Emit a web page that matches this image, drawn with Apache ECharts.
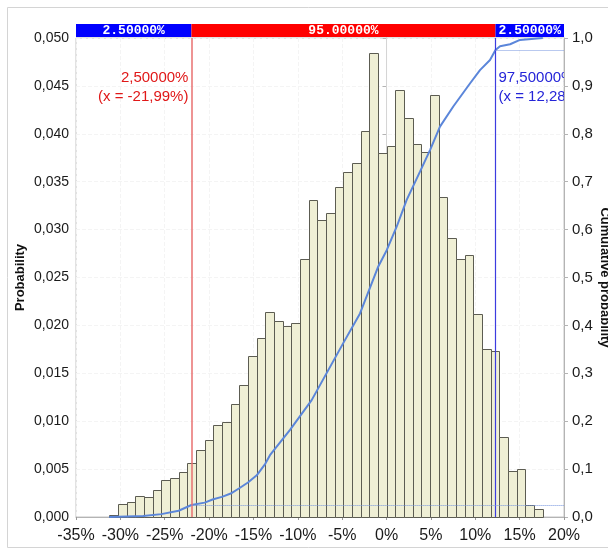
<!DOCTYPE html>
<html>
<head>
<meta charset="utf-8">
<script src="https://cdn.jsdelivr.net/npm/echarts@6/dist/echarts.min.js"></script>
<style>
  html, body { margin: 0; padding: 0; background: #fff; }
  #chart { width: 608px; height: 554px; }
</style>
</head>
<body>
<div id="chart"></div>
<script>
// Histogram of simulated returns: 50 equal-width bins between the sample minimum and maximum (%)
const binMin = -31.25;
const binMax = 17.61;
const binProb = [
  0.00024, 0.00133, 0.00153, 0.0022, 0.00205, 0.0028, 0.0039, 0.0041, 0.00467, 0.00564,
  0.00696, 0.0080, 0.00957, 0.00995, 0.01176, 0.01381, 0.0168, 0.01872, 0.0214, 0.0205,
  0.0199, 0.0202, 0.0269, 0.0331, 0.0310, 0.0317, 0.0344, 0.0360, 0.0370, 0.0403,
  0.0484, 0.0380, 0.0387, 0.0446, 0.0417, 0.0389, 0.0381, 0.0440, 0.0334, 0.0291,
  0.0269, 0.0274, 0.0212, 0.0175, 0.0173, 0.0084, 0.0048, 0.0050, 0.0013, 0.0008
];

// Empirical cumulative distribution (x in %, cumulative probability)
const cumX = [
  -31.25, -27.42, -25.39, -23.43, -21.99, -20.50, -19.53, -18.55, -17.56, -16.60,
  -15.62, -14.63, -13.67, -13.14, -10.88, -8.44, -4.88, -2.99, -0.93, 0.02,
  1.14, 2.27, 3.77, 4.90, 6.02, 7.52, 9.40, 10.53, 11.66, 12.28,
  12.79, 13.92, 15.04, 17.61
];
const cumP = [
  0.000, 0.002, 0.006, 0.013, 0.025, 0.030, 0.037, 0.042, 0.049, 0.060,
  0.072, 0.087, 0.111, 0.129, 0.182, 0.244, 0.363, 0.425, 0.523, 0.557,
  0.606, 0.662, 0.721, 0.766, 0.815, 0.857, 0.905, 0.933, 0.954, 0.975,
  0.983, 0.987, 0.996, 1.000
];

// Axis ranges
const xMin = -35, xMax = 20, xStep = 5;
const pMax = 0.05, pStep = 0.005;
const cMax = 1, cStep = 0.1;

// Delimiters of the central interval
const qLow = -21.99, qHigh = 12.28;
const qLowP = 0.025, qHighP = 0.975;
const bandText = ['2.50000%', '95.00000%', '2.50000%'];
const qLowText = ['2,50000%', '(x = -21,99%)'];
const qHighText = ['97,50000%', '(x = 12,28%)'];

const FONT = '"Liberation Sans", Arial, sans-serif';
const comma = (v, d) => v.toFixed(d).replace('.', ',');

const binW = (binMax - binMin) / binProb.length;
const barData = binProb.map((p, i) => [binMin + i * binW, binMin + (i + 1) * binW, p]);
const cumData = cumX.map((x, i) => [x, cumP[i]]);

const bandData = [
  [xMin, qLow, 0],
  [qLow, qHigh, 1],
  [qHigh, xMax, 2]
];
const bandColors = ['#0000ff', '#ff0000', '#0000ff'];

const chart = echarts.init(document.getElementById('chart'), null, { renderer: 'canvas' });

chart.setOption({
  animation: false,
  backgroundColor: '#fff',
  graphic: [{
    type: 'rect',
    shape: { x: 7.5, y: 7.5, width: 620, height: 540 },
    style: { fill: 'none', stroke: '#d4d4d4', lineWidth: 1 },
    silent: true, z: 0
  }],
  grid: [
    { left: 76, right: 44, top: 38, bottom: 37, show: true, borderColor: '#c4c4c4', borderWidth: 1, containLabel: false, outerBoundsMode: 'none' },
    { left: 76, right: 44, top: 24, height: 13, containLabel: false, outerBoundsMode: 'none' }
  ],
  xAxis: [
    {
      gridIndex: 0, type: 'value', min: xMin, max: xMax, interval: xStep,
      axisLine: { show: true, lineStyle: { color: '#b4b4b4' } },
      axisTick: { show: true, length: 3, lineStyle: { color: '#999' } },
      axisLabel: { formatter: v => v + '%', fontSize: 16, color: '#1a1a1a', fontFamily: FONT, margin: 11 },
      splitLine: { show: true, lineStyle: { color: '#f4f4f4', type: 'dashed' } }
    },
    { gridIndex: 1, type: 'value', min: xMin, max: xMax, show: false }
  ],
  yAxis: [
    {
      gridIndex: 0, type: 'value', min: 0, max: pMax, interval: pStep,
      name: 'Probability', nameLocation: 'middle', nameGap: 49, nameMoveOverlap: false,
      nameTextStyle: { fontWeight: 'bold', fontSize: 13, color: '#111', fontFamily: FONT },
      axisLine: { show: true, lineStyle: { color: '#b4b4b4' } },
      axisTick: { show: true, length: 4, lineStyle: { color: '#b4b4b4' } },
      axisLabel: { formatter: v => comma(v, 3), fontSize: 14, color: '#1a1a1a', fontFamily: FONT, margin: 7 },
      splitLine: { show: true, lineStyle: { color: '#f4f4f4', type: 'dashed' } }
    },
    {
      gridIndex: 0, type: 'value', position: 'right', min: 0, max: cMax, interval: cStep,
      name: 'Cumulative probability', nameLocation: 'middle', nameRotate: -90, nameGap: 34, nameMoveOverlap: false,
      nameTextStyle: { fontWeight: 'bold', fontSize: 13, color: '#111', fontFamily: FONT },
      axisLine: { show: true, lineStyle: { color: '#b4b4b4' } },
      axisTick: { show: true, length: 4, lineStyle: { color: '#b4b4b4' } },
      axisLabel: { formatter: v => comma(v, 1), fontSize: 15, color: '#1a1a1a', fontFamily: FONT, margin: 8 },
      splitLine: { show: false }
    },
    { gridIndex: 1, type: 'value', min: 0, max: 1, show: false }
  ],
  series: [
    {
      // zero reference line behind the bars
      name: 'zero', type: 'line', xAxisIndex: 0, yAxisIndex: 0, z: 1,
      data: [[0, 0], [0, pMax]], symbol: 'none', silent: true,
      lineStyle: { color: '#d6d6d6', width: 1 }
    },
    {
      name: 'Probability', type: 'custom', xAxisIndex: 0, yAxisIndex: 0, z: 2,
      data: barData,
      renderItem: (params, api) => {
        const a = api.coord([api.value(0), api.value(2)]);
        const b = api.coord([api.value(1), 0]);
        return {
          type: 'rect',
          shape: { x: Math.round(a[0]) + 0.5, y: Math.round(a[1]) + 0.5, width: Math.round(b[0]) - Math.round(a[0]), height: Math.round(b[1]) - Math.round(a[1]) },
          style: { fill: '#efefd5', stroke: '#5c5c52', lineWidth: 1 }
        };
      },
      markLine: {
        silent: true, symbol: 'none', label: { show: false },
        data: [
          { xAxis: qLow, lineStyle: { color: '#e87070', width: 1.5, type: 'solid' } },
          { xAxis: qHigh, lineStyle: { color: '#3c3ce0', width: 1.2, type: 'solid' } }
        ]
      }
    },
    {
      name: 'Cumulative', type: 'line', xAxisIndex: 0, yAxisIndex: 1, z: 4,
      data: cumData, symbol: 'none', smooth: false,
      lineStyle: { color: '#5b86da', width: 2 },
      markLine: {
        silent: true, symbol: 'none', label: { show: false },
        lineStyle: { color: '#7393de', width: 1, type: 'dotted' },
        data: [
          [{ coord: [qLow, qLowP] }, { coord: [xMax, qLowP] }],
          [{ coord: [qHigh, qHighP] }, { coord: [xMax, qHighP] }]
        ]
      }
    },
    {
      // interval annotations, clipped to the plot area
      name: 'notes', type: 'custom', xAxisIndex: 0, yAxisIndex: 0, z: 5, clip: true, silent: true,
      data: [[qLow, 0], [qHigh, 1]],
      renderItem: (params, api) => {
        const x = api.coord([api.value(0), 0])[0];
        const side = api.value(1);
        const lines = side === 0 ? qLowText : qHighText;
        return {
          type: 'text',
          x: side === 0 ? x - 3 : x + 3,
          y: params.coordSys.y + 30,
          style: {
            text: lines.join('\n'),
            fill: side === 0 ? '#e01818' : '#2424d8',
            font: '15px ' + FONT,
            align: side === 0 ? 'right' : 'left',
            verticalAlign: 'top',
            lineHeight: 19
          }
        };
      }
    },
    {
      name: 'band', type: 'custom', xAxisIndex: 1, yAxisIndex: 2, silent: true,
      data: bandData,
      renderItem: (params, api) => {
        const x0 = api.coord([api.value(0), 0])[0];
        const x1 = api.coord([api.value(1), 0])[0];
        const cs = params.coordSys;
        const k = api.value(2);
        return {
          type: 'group',
          children: [
            { type: 'rect', shape: { x: x0, y: cs.y, width: x1 - x0, height: cs.height }, style: { fill: bandColors[k] } },
            {
              type: 'text', x: (x0 + x1) / 2, y: cs.y + cs.height / 2 + 0.5,
              style: { text: bandText[k], fill: '#fff', font: 'bold 13px "Liberation Mono", "Courier New", monospace', align: 'center', verticalAlign: 'middle' }
            }
          ]
        };
      }
    }
  ]
});
</script>
</body>
</html>
